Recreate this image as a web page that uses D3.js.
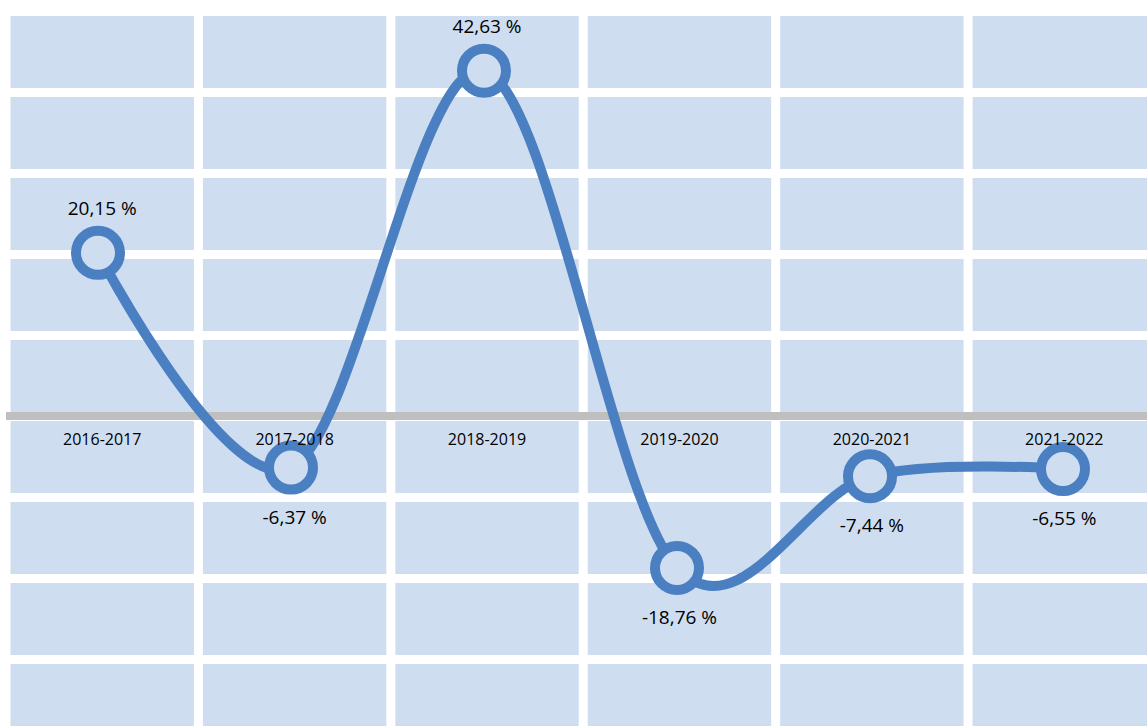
<!DOCTYPE html>
<html>
<head>
<meta charset="utf-8">
<script src="https://cdn.jsdelivr.net/npm/d3@7"></script>
<style>
  html, body { margin: 0; padding: 0; background: #fff; }
  svg { display: block; font-family: 'Open Sans', sans-serif; }
</style>
</head>
<body>
<svg id="chart" width="1147" height="726"></svg>
<script>
// Dati
const categories = ['2016-2017', '2017-2018', '2018-2019', '2019-2020', '2020-2021', '2021-2022'];
const values = [20.15, -6.37, 42.63, -18.76, -7.44, -6.55];
const valueLabels = ['20,15 %', '-6,37 %', '42,63 %', '-18,76 %', '-7,44 %', '-6,55 %'];
const yDomain = [-40, 50];

const svg = d3.select('#chart');

const render = () => {
    // Settaggi generali
    const width = +svg.attr('width');
    const height = +svg.attr('height');
    const plotLeft = 6;
    const plotRight = 1160.5;
    const blue = '#4a7fc2';
    const cellColor = '#cfddf0';

    const data = categories.map((c, i) => ({ cat: c, value: values[i], label: valueLabels[i] }));

    // Scale
    const xBand = d3.scaleBand()
        .domain(categories)
        .range([plotLeft, plotRight]);

    const xPoint = d3.scalePoint()
        .domain(categories)
        .range([98, 1063]);

    const yScale = d3.scaleLinear()
        .domain(yDomain)
        .range([740, 11]);

    const g = svg.append('g');

    // Sfondo area del grafico
    g.append('rect')
        .attr('x', plotLeft)
        .attr('y', yScale(yDomain[1]))
        .attr('width', plotRight - plotLeft)
        .attr('height', yScale(yDomain[0]) - yScale(yDomain[1]))
        .attr('fill', cellColor);

    // Griglia orizzontale (asse y senza etichette)
    const yAxis = d3.axisLeft(yScale)
        .ticks(9)
        .tickSize(-(width + 20))
        .tickFormat('');

    const yAxisG = g.append('g')
        .attr('transform', `translate(${plotLeft - 10}, 0)`)
        .call(yAxis);
    yAxisG.select('.domain').remove();
    yAxisG.selectAll('line')
        .attr('stroke', '#fff')
        .attr('stroke-width', 9);

    // Griglia verticale sui confini delle categorie
    const boundaries = categories.map(c => xBand(c)).concat([xBand.range()[1]]);
    g.append('g')
        .selectAll('line')
        .data(boundaries)
        .enter()
        .append('line')
            .attr('x1', d => d)
            .attr('x2', d => d)
            .attr('y1', 0)
            .attr('y2', height)
            .attr('stroke', '#fff')
            .attr('stroke-width', 9);

    // Linea dello zero
    g.append('line')
        .attr('x1', plotLeft)
        .attr('x2', width)
        .attr('y1', yScale(0))
        .attr('y2', yScale(0))
        .attr('stroke', '#bfbfbf')
        .attr('stroke-width', 8);

    // Linea smussata
    const lineGenerator = d3.line()
        .x(d => xPoint(d.cat))
        .y(d => yScale(d.value))
        .curve(d3.curveCardinal.tension(0));

    g.append('path')
        .attr('d', lineGenerator(data))
        .attr('fill', 'none')
        .attr('stroke', blue)
        .attr('stroke-width', 10)
        .attr('stroke-linecap', 'round');

    // Marcatori
    g.append('g')
        .selectAll('circle')
        .data(data)
        .enter()
        .append('circle')
            .attr('cx', d => xPoint(d.cat))
            .attr('cy', d => yScale(d.value))
            .attr('r', 22)
            .attr('fill', cellColor)
            .attr('stroke', blue)
            .attr('stroke-width', 10);

    // Etichette categorie
    g.append('g')
        .selectAll('text')
        .data(categories)
        .enter()
        .append('text')
            .attr('x', d => xBand(d) + xBand.bandwidth() / 2)
            .attr('y', yScale(0) + 29)
            .attr('text-anchor', 'middle')
            .attr('font-size', 16)
            .attr('fill', '#000')
            .text(d => d);

    // Etichette dati
    g.append('g')
        .selectAll('text')
        .data(data)
        .enter()
        .append('text')
            .attr('x', d => xBand(d.cat) + xBand.bandwidth() / 2)
            .attr('y', d => d.value >= 0 ? yScale(d.value) - 38 : yScale(d.value) + 56)
            .attr('text-anchor', 'middle')
            .attr('font-size', 19)
            .attr('fill', '#000')
            .text(d => d.label);
};

render();
</script>
</body>
</html>
